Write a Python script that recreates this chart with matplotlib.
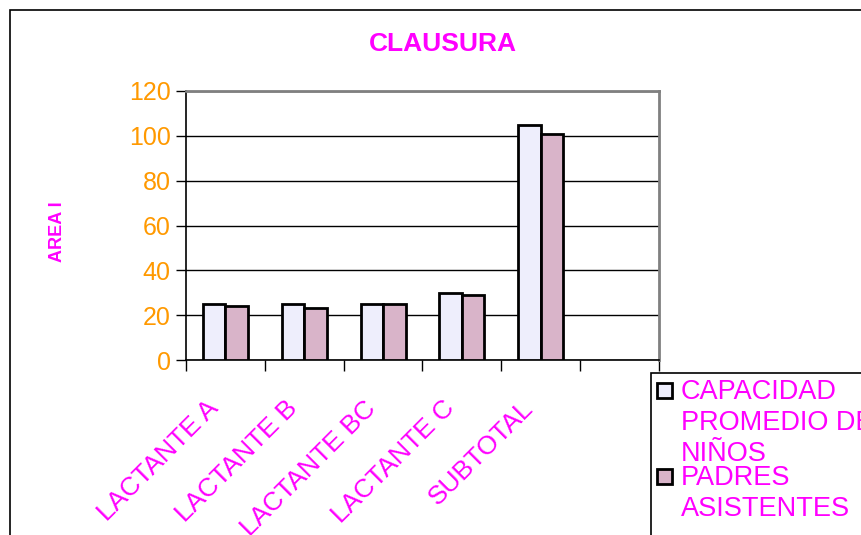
import matplotlib.pyplot as plt
import numpy as np
from matplotlib.patches import Rectangle

plt.rcParams["font.family"] = ["Liberation Sans", "DejaVu Sans"]

# data
categories = ["LACTANTE A", "LACTANTE B", "LACTANTE BC", "LACTANTE C", "SUBTOTAL", ""]
capacidad = [25, 25, 25, 30, 105]
padres = [24, 23, 25, 29, 101]
series_labels = ["CAPACIDAD\nPROMEDIO DE\nNIÑOS", "PADRES\nASISTENTES"]
yticks = [0, 20, 40, 60, 80, 100, 120]

MAGENTA = "#FF00FF"
ORANGE = "#FF9900"
COL_A = "#EEEEFC"
COL_B = "#D9B4C9"

fig = plt.figure(figsize=(8.62, 5.35), dpi=100)
ax = fig.add_axes([186 / 862, 1 - 360 / 535, (659 - 186) / 862, (360 - 91) / 535])

# outer chart frame (runs off the right/bottom edge like the original)
fig.add_artist(Rectangle((10 / 862, -0.1), 1.0, 1 - 10 / 535 + 0.1,
                         transform=fig.transFigure, fill=False,
                         edgecolor="black", linewidth=1.2))

n = len(capacidad)
x = np.arange(n)
w = 0.285
ax.bar(x - w / 2, capacidad, width=w, color=COL_A, edgecolor="black",
       linewidth=2, zorder=3)
ax.bar(x + w / 2, padres, width=w, color=COL_B, edgecolor="black",
       linewidth=2, zorder=3)

ax.set_xlim(-0.5, len(categories) - 0.5)
ax.set_ylim(0, 120)
ax.set_yticks(yticks)
ax.tick_params(axis="y", labelsize=18, labelcolor=ORANGE, length=7,
               width=1, direction="out", pad=4)
ax.yaxis.grid(True, color="black", linewidth=1)
ax.set_axisbelow(True)

# category ticks sit on the slot boundaries, labels at slot centres
ax.set_xticks(np.arange(len(categories) + 1) - 0.5)
ax.set_xticklabels([])
ax.tick_params(axis="x", length=8, width=1, direction="out")
for i, lab in enumerate(categories):
    ax.annotate(lab, xy=(i, 0), xycoords=("data", "axes fraction"),
                xytext=(-14, -26), textcoords="offset points",
                rotation=45, ha="right", va="top", rotation_mode="anchor",
                color=MAGENTA, fontsize=19)

ax.spines["left"].set_color("black")
ax.spines["bottom"].set_color("black")
ax.spines["left"].set_linewidth(1.2)
ax.spines["bottom"].set_linewidth(1.2)
ax.spines["top"].set_color("#808080")
ax.spines["right"].set_color("#808080")
ax.spines["top"].set_linewidth(2)
ax.spines["right"].set_linewidth(2)

fig.text(443 / 862, 1 - 44 / 535, "CLAUSURA", ha="center", va="center",
         color=MAGENTA, fontsize=19, fontweight="bold")
fig.text(58 / 862, 1 - 232 / 535, "AREA I", ha="center", va="center",
         rotation=90, color=MAGENTA, fontsize=13, fontweight="bold")

# legend box, cut off by the figure edge as in the original
fig.add_artist(Rectangle((651 / 862, -0.1), 0.5, 1 - 373 / 535 + 0.1,
                         transform=fig.transFigure, fill=False,
                         edgecolor="black", linewidth=1.2))
legend_rows = [(390, COL_A, series_labels[0]), (476, COL_B, series_labels[1])]
for y_px, col, lab in legend_rows:
    fig.add_artist(Rectangle((657 / 862, 1 - (y_px + 8) / 535), 15 / 862, 15 / 535,
                             transform=fig.transFigure, facecolor=col,
                             edgecolor="black", linewidth=2))
    fig.text(681 / 862, 1 - (y_px - 11) / 535, lab, ha="left", va="top",
             color=MAGENTA, fontsize=19.5, linespacing=1.24)

fig.savefig("out.png", dpi=100)
